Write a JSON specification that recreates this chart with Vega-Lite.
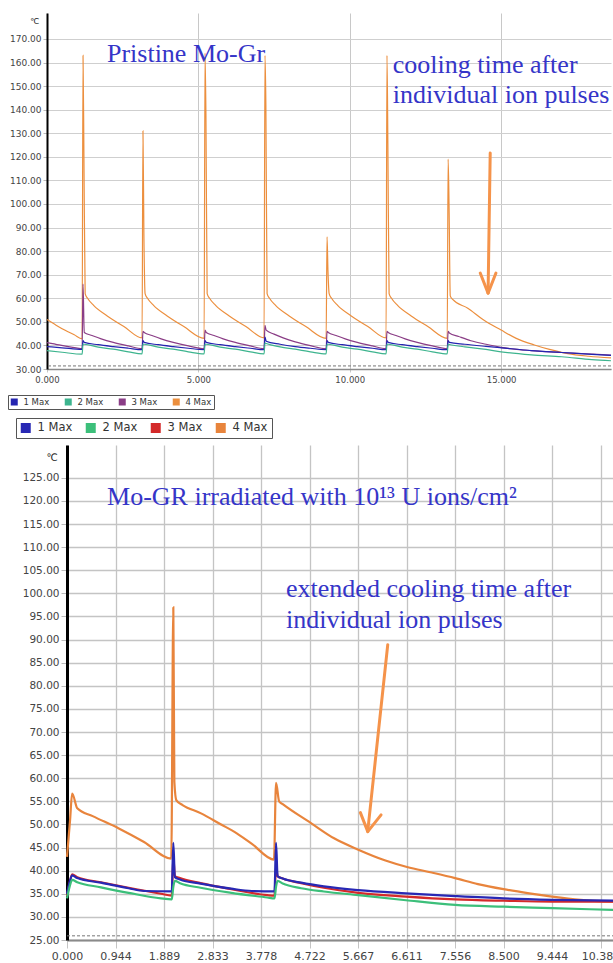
{
"$schema": "https://vega.github.io/schema/vega-lite/v6.json",
"background": "white",
"padding": {"left": 7, "top": 13, "right": 0, "bottom": 0},
"spacing": 76,
"bounds": "flush",
"config": {"view": {"stroke": null}, "font": "DejaVu Sans"},
"resolve": {"scale": {"color": "independent"}},
"datasets": {
"top": [
{"t":0,"v":51.0,"s":"4 Max"},{"t":0.3,"v":48.6,"s":"4 Max"},{"t":0.6,"v":46.4,"s":"4 Max"},{"t":0.9,"v":44.5,"s":"4 Max"},{"t":1.16,"v":42.8,"s":"4 Max"},
{"t":1.19,"v":163,"s":"4 Max"},{"t":1.22,"v":120,"s":"4 Max"},{"t":1.26,"v":62,"s":"4 Max"},{"t":1.34,"v":60,"s":"4 Max"},{"t":1.54,"v":57,"s":"4 Max"},{"t":1.99,"v":52.5,"s":"4 Max"},{"t":2.54,"v":48,"s":"4 Max"},{"t":3.14,"v":43.2,"s":"4 Max"},
{"t":3.17,"v":131,"s":"4 Max"},{"t":3.2,"v":88,"s":"4 Max"},{"t":3.24,"v":62,"s":"4 Max"},{"t":3.32,"v":60,"s":"4 Max"},{"t":3.52,"v":57,"s":"4 Max"},{"t":3.97,"v":52.5,"s":"4 Max"},{"t":4.52,"v":48,"s":"4 Max"},{"t":5.19,"v":43,"s":"4 Max"},
{"t":5.22,"v":164,"s":"4 Max"},{"t":5.25,"v":138,"s":"4 Max"},{"t":5.29,"v":62,"s":"4 Max"},{"t":5.37,"v":60,"s":"4 Max"},{"t":5.57,"v":57,"s":"4 Max"},{"t":6.02,"v":52.5,"s":"4 Max"},{"t":6.57,"v":48,"s":"4 Max"},{"t":7.17,"v":43.2,"s":"4 Max"},
{"t":7.2,"v":163,"s":"4 Max"},{"t":7.23,"v":142,"s":"4 Max"},{"t":7.27,"v":62,"s":"4 Max"},{"t":7.35,"v":60,"s":"4 Max"},{"t":7.55,"v":57,"s":"4 Max"},{"t":8.0,"v":52.5,"s":"4 Max"},{"t":8.55,"v":48,"s":"4 Max"},{"t":9.22,"v":43,"s":"4 Max"},
{"t":9.25,"v":86,"s":"4 Max"},{"t":9.28,"v":72,"s":"4 Max"},{"t":9.32,"v":62,"s":"4 Max"},{"t":9.4,"v":60,"s":"4 Max"},{"t":9.6,"v":57,"s":"4 Max"},{"t":10.05,"v":52.5,"s":"4 Max"},{"t":10.6,"v":48,"s":"4 Max"},{"t":11.2,"v":43.2,"s":"4 Max"},
{"t":11.23,"v":163,"s":"4 Max"},{"t":11.26,"v":125,"s":"4 Max"},{"t":11.3,"v":62,"s":"4 Max"},{"t":11.38,"v":60,"s":"4 Max"},{"t":11.58,"v":57,"s":"4 Max"},{"t":12.03,"v":52.5,"s":"4 Max"},{"t":12.58,"v":48,"s":"4 Max"},{"t":13.22,"v":43,"s":"4 Max"},
{"t":13.25,"v":119,"s":"4 Max"},{"t":13.28,"v":100,"s":"4 Max"},{"t":13.32,"v":61,"s":"4 Max"},{"t":13.4,"v":59.5,"s":"4 Max"},{"t":13.9,"v":55.8,"s":"4 Max"},{"t":14.4,"v":51,"s":"4 Max"},{"t":15.0,"v":46.5,"s":"4 Max"},{"t":15.5,"v":43,"s":"4 Max"},{"t":16.1,"v":40.2,"s":"4 Max"},{"t":16.6,"v":38.3,"s":"4 Max"},{"t":17.2,"v":36.5,"s":"4 Max"},{"t":17.9,"v":35.4,"s":"4 Max"},{"t":18.63,"v":34.7,"s":"4 Max"},

{"t":0,"v":41.2,"s":"3 Max"},{"t":0.4,"v":40.2,"s":"3 Max"},{"t":0.8,"v":39.3,"s":"3 Max"},{"t":1.16,"v":38.6,"s":"3 Max"},
{"t":1.19,"v":66,"s":"3 Max"},{"t":1.23,"v":45.5,"s":"3 Max"},{"t":1.49,"v":44.2,"s":"3 Max"},{"t":1.79,"v":42.8,"s":"3 Max"},{"t":2.19,"v":41.3,"s":"3 Max"},{"t":2.69,"v":39.8,"s":"3 Max"},{"t":3.14,"v":38.6,"s":"3 Max"},
{"t":3.17,"v":46,"s":"3 Max"},{"t":3.21,"v":45.5,"s":"3 Max"},{"t":3.47,"v":44.2,"s":"3 Max"},{"t":3.77,"v":42.8,"s":"3 Max"},{"t":4.17,"v":41.3,"s":"3 Max"},{"t":4.67,"v":39.8,"s":"3 Max"},{"t":5.19,"v":38.6,"s":"3 Max"},
{"t":5.22,"v":46.5,"s":"3 Max"},{"t":5.26,"v":45.5,"s":"3 Max"},{"t":5.52,"v":44.2,"s":"3 Max"},{"t":5.82,"v":42.8,"s":"3 Max"},{"t":6.22,"v":41.3,"s":"3 Max"},{"t":6.72,"v":39.8,"s":"3 Max"},{"t":7.17,"v":38.6,"s":"3 Max"},
{"t":7.2,"v":48.5,"s":"3 Max"},{"t":7.24,"v":46.5,"s":"3 Max"},{"t":7.5,"v":44.8,"s":"3 Max"},{"t":7.8,"v":43.2,"s":"3 Max"},{"t":8.2,"v":41.5,"s":"3 Max"},{"t":8.7,"v":39.9,"s":"3 Max"},{"t":9.22,"v":38.6,"s":"3 Max"},
{"t":9.25,"v":46,"s":"3 Max"},{"t":9.29,"v":45.5,"s":"3 Max"},{"t":9.55,"v":44.2,"s":"3 Max"},{"t":9.85,"v":42.8,"s":"3 Max"},{"t":10.25,"v":41.3,"s":"3 Max"},{"t":10.75,"v":39.8,"s":"3 Max"},{"t":11.2,"v":38.6,"s":"3 Max"},
{"t":11.23,"v":46,"s":"3 Max"},{"t":11.27,"v":45.5,"s":"3 Max"},{"t":11.53,"v":44.2,"s":"3 Max"},{"t":11.83,"v":42.8,"s":"3 Max"},{"t":12.23,"v":41.3,"s":"3 Max"},{"t":12.73,"v":39.8,"s":"3 Max"},{"t":13.22,"v":38.6,"s":"3 Max"},
{"t":13.25,"v":46,"s":"3 Max"},{"t":13.29,"v":45.3,"s":"3 Max"},{"t":13.6,"v":43.8,"s":"3 Max"},{"t":14.0,"v":42,"s":"3 Max"},{"t":14.5,"v":40.5,"s":"3 Max"},{"t":15.0,"v":39.2,"s":"3 Max"},{"t":16.0,"v":37.8,"s":"3 Max"},{"t":17.0,"v":37,"s":"3 Max"},{"t":18.0,"v":36.3,"s":"3 Max"},{"t":18.63,"v":35.9,"s":"3 Max"},

{"t":0,"v":39.5,"s":"1 Max"},{"t":0.5,"v":39,"s":"1 Max"},{"t":1.16,"v":38.3,"s":"1 Max"},
{"t":1.19,"v":42,"s":"1 Max"},{"t":1.23,"v":41.3,"s":"1 Max"},{"t":1.69,"v":40.3,"s":"1 Max"},{"t":2.19,"v":39.5,"s":"1 Max"},{"t":2.69,"v":38.8,"s":"1 Max"},{"t":3.14,"v":38.2,"s":"1 Max"},
{"t":3.17,"v":42,"s":"1 Max"},{"t":3.21,"v":41.3,"s":"1 Max"},{"t":3.67,"v":40.3,"s":"1 Max"},{"t":4.17,"v":39.5,"s":"1 Max"},{"t":4.67,"v":38.8,"s":"1 Max"},{"t":5.19,"v":38.2,"s":"1 Max"},
{"t":5.22,"v":42,"s":"1 Max"},{"t":5.26,"v":41.3,"s":"1 Max"},{"t":5.72,"v":40.3,"s":"1 Max"},{"t":6.22,"v":39.5,"s":"1 Max"},{"t":6.72,"v":38.8,"s":"1 Max"},{"t":7.17,"v":38.2,"s":"1 Max"},
{"t":7.2,"v":43.5,"s":"1 Max"},{"t":7.24,"v":41.8,"s":"1 Max"},{"t":7.7,"v":40.5,"s":"1 Max"},{"t":8.2,"v":39.5,"s":"1 Max"},{"t":8.7,"v":38.8,"s":"1 Max"},{"t":9.22,"v":38.2,"s":"1 Max"},
{"t":9.25,"v":42,"s":"1 Max"},{"t":9.29,"v":41.3,"s":"1 Max"},{"t":9.75,"v":40.3,"s":"1 Max"},{"t":10.25,"v":39.5,"s":"1 Max"},{"t":10.75,"v":38.8,"s":"1 Max"},{"t":11.2,"v":38.2,"s":"1 Max"},
{"t":11.23,"v":42,"s":"1 Max"},{"t":11.27,"v":41.3,"s":"1 Max"},{"t":11.73,"v":40.3,"s":"1 Max"},{"t":12.23,"v":39.5,"s":"1 Max"},{"t":12.73,"v":38.8,"s":"1 Max"},{"t":13.22,"v":38.2,"s":"1 Max"},
{"t":13.25,"v":42,"s":"1 Max"},{"t":13.29,"v":41.3,"s":"1 Max"},{"t":13.8,"v":40.5,"s":"1 Max"},{"t":14.5,"v":39.6,"s":"1 Max"},{"t":15.0,"v":39,"s":"1 Max"},{"t":16.0,"v":37.8,"s":"1 Max"},{"t":17.0,"v":37,"s":"1 Max"},{"t":18.0,"v":36.2,"s":"1 Max"},{"t":18.63,"v":35.8,"s":"1 Max"},

{"t":0,"v":37.8,"s":"2 Max"},{"t":0.5,"v":37.1,"s":"2 Max"},{"t":1.16,"v":36.3,"s":"2 Max"},
{"t":1.19,"v":40.5,"s":"2 Max"},{"t":1.23,"v":40.5,"s":"2 Max"},{"t":1.69,"v":39.3,"s":"2 Max"},{"t":2.19,"v":38.4,"s":"2 Max"},{"t":2.69,"v":37.3,"s":"2 Max"},{"t":3.14,"v":36.4,"s":"2 Max"},
{"t":3.17,"v":40.5,"s":"2 Max"},{"t":3.21,"v":40.5,"s":"2 Max"},{"t":3.67,"v":39.3,"s":"2 Max"},{"t":4.17,"v":38.4,"s":"2 Max"},{"t":4.67,"v":37.3,"s":"2 Max"},{"t":5.19,"v":36.4,"s":"2 Max"},
{"t":5.22,"v":40.5,"s":"2 Max"},{"t":5.26,"v":40.5,"s":"2 Max"},{"t":5.72,"v":39.3,"s":"2 Max"},{"t":6.22,"v":38.4,"s":"2 Max"},{"t":6.72,"v":37.3,"s":"2 Max"},{"t":7.17,"v":36.4,"s":"2 Max"},
{"t":7.2,"v":41,"s":"2 Max"},{"t":7.24,"v":40.8,"s":"2 Max"},{"t":7.7,"v":39.4,"s":"2 Max"},{"t":8.2,"v":38.4,"s":"2 Max"},{"t":8.7,"v":37.3,"s":"2 Max"},{"t":9.22,"v":36.4,"s":"2 Max"},
{"t":9.25,"v":40.5,"s":"2 Max"},{"t":9.29,"v":40.5,"s":"2 Max"},{"t":9.75,"v":39.3,"s":"2 Max"},{"t":10.25,"v":38.4,"s":"2 Max"},{"t":10.75,"v":37.3,"s":"2 Max"},{"t":11.2,"v":36.4,"s":"2 Max"},
{"t":11.23,"v":40.5,"s":"2 Max"},{"t":11.27,"v":40.5,"s":"2 Max"},{"t":11.73,"v":39.3,"s":"2 Max"},{"t":12.23,"v":38.4,"s":"2 Max"},{"t":12.73,"v":37.3,"s":"2 Max"},{"t":13.22,"v":36.4,"s":"2 Max"},
{"t":13.25,"v":40.5,"s":"2 Max"},{"t":13.29,"v":40.4,"s":"2 Max"},{"t":13.8,"v":39.4,"s":"2 Max"},{"t":14.5,"v":38.3,"s":"2 Max"},{"t":15.0,"v":37.3,"s":"2 Max"},{"t":16.0,"v":36,"s":"2 Max"},{"t":17.0,"v":35.2,"s":"2 Max"},{"t":18.0,"v":34,"s":"2 Max"},{"t":18.63,"v":33.5,"s":"2 Max"}
],
"bottom": [
{"t":0,"v":43,"s":"4 Max"},{"t":0.03,"v":47,"s":"4 Max"},{"t":0.06,"v":51,"s":"4 Max"},{"t":0.1,"v":56.7,"s":"4 Max"},{"t":0.2,"v":53.5,"s":"4 Max"},{"t":0.5,"v":51.8,"s":"4 Max"},{"t":1.0,"v":49.2,"s":"4 Max"},{"t":1.5,"v":46.2,"s":"4 Max"},{"t":2.03,"v":42.6,"s":"4 Max"},
{"t":2.07,"v":97,"s":"4 Max"},{"t":2.09,"v":59.3,"s":"4 Max"},{"t":2.13,"v":55.2,"s":"4 Max"},{"t":2.25,"v":54.2,"s":"4 Max"},{"t":2.61,"v":52.4,"s":"4 Max"},{"t":3.0,"v":50,"s":"4 Max"},{"t":3.26,"v":48.4,"s":"4 Max"},{"t":3.6,"v":45.8,"s":"4 Max"},{"t":4.03,"v":42.4,"s":"4 Max"},
{"t":4.07,"v":59,"s":"4 Max"},{"t":4.13,"v":55,"s":"4 Max"},{"t":4.2,"v":54.4,"s":"4 Max"},{"t":4.75,"v":50.3,"s":"4 Max"},{"t":5.2,"v":47,"s":"4 Max"},{"t":5.66,"v":44.6,"s":"4 Max"},{"t":6.2,"v":42.2,"s":"4 Max"},{"t":6.62,"v":40.8,"s":"4 Max"},{"t":7.1,"v":39.6,"s":"4 Max"},{"t":7.556,"v":38.4,"s":"4 Max"},{"t":8.0,"v":37.1,"s":"4 Max"},{"t":8.5,"v":36.0,"s":"4 Max"},{"t":9.0,"v":35.1,"s":"4 Max"},{"t":9.444,"v":34.4,"s":"4 Max"},{"t":10.0,"v":33.7,"s":"4 Max"},{"t":10.65,"v":33.3,"s":"4 Max"},

{"t":0,"v":34.5,"s":"3 Max"},{"t":0.05,"v":37.2,"s":"3 Max"},{"t":0.1,"v":39.2,"s":"3 Max"},{"t":0.2,"v":38.6,"s":"3 Max"},{"t":0.66,"v":37.5,"s":"3 Max"},{"t":1.2,"v":36.3,"s":"3 Max"},{"t":1.83,"v":35.0,"s":"3 Max"},{"t":2.04,"v":34.6,"s":"3 Max"},
{"t":2.07,"v":43,"s":"3 Max"},{"t":2.1,"v":38.8,"s":"3 Max"},{"t":2.2,"v":38.4,"s":"3 Max"},{"t":2.6,"v":37.3,"s":"3 Max"},{"t":3.2,"v":36,"s":"3 Max"},{"t":3.9,"v":34.7,"s":"3 Max"},{"t":4.04,"v":34.6,"s":"3 Max"},
{"t":4.07,"v":41,"s":"3 Max"},{"t":4.1,"v":38.8,"s":"3 Max"},{"t":4.2,"v":38.3,"s":"3 Max"},{"t":4.56,"v":37.3,"s":"3 Max"},{"t":5.0,"v":36.3,"s":"3 Max"},{"t":5.67,"v":35.2,"s":"3 Max"},{"t":6.6,"v":34.4,"s":"3 Max"},{"t":7.556,"v":33.8,"s":"3 Max"},{"t":8.5,"v":33.5,"s":"3 Max"},{"t":9.444,"v":33.3,"s":"3 Max"},{"t":10.65,"v":33.3,"s":"3 Max"},

{"t":0,"v":35,"s":"1 Max"},{"t":0.05,"v":37.5,"s":"1 Max"},{"t":0.1,"v":39,"s":"1 Max"},{"t":0.2,"v":38.4,"s":"1 Max"},{"t":0.66,"v":37.4,"s":"1 Max"},{"t":1.2,"v":36.2,"s":"1 Max"},{"t":1.5,"v":35.6,"s":"1 Max"},{"t":2.04,"v":35.5,"s":"1 Max"},
{"t":2.07,"v":46,"s":"1 Max"},{"t":2.1,"v":38.6,"s":"1 Max"},{"t":2.2,"v":38.1,"s":"1 Max"},{"t":2.6,"v":37.2,"s":"1 Max"},{"t":3.2,"v":36.1,"s":"1 Max"},{"t":3.6,"v":35.6,"s":"1 Max"},{"t":4.04,"v":35.5,"s":"1 Max"},
{"t":4.07,"v":46,"s":"1 Max"},{"t":4.1,"v":38.8,"s":"1 Max"},{"t":4.2,"v":38.3,"s":"1 Max"},{"t":4.56,"v":37.4,"s":"1 Max"},{"t":5.0,"v":36.6,"s":"1 Max"},{"t":5.67,"v":35.8,"s":"1 Max"},{"t":6.6,"v":35.1,"s":"1 Max"},{"t":7.556,"v":34.5,"s":"1 Max"},{"t":8.5,"v":34.0,"s":"1 Max"},{"t":9.444,"v":33.7,"s":"1 Max"},{"t":10.65,"v":33.5,"s":"1 Max"},

{"t":0,"v":34,"s":"2 Max"},{"t":0.05,"v":36.5,"s":"2 Max"},{"t":0.1,"v":38,"s":"2 Max"},{"t":0.2,"v":37.5,"s":"2 Max"},{"t":0.66,"v":36.4,"s":"2 Max"},{"t":1.2,"v":35.2,"s":"2 Max"},{"t":1.83,"v":34,"s":"2 Max"},{"t":2.04,"v":33.8,"s":"2 Max"},
{"t":2.07,"v":36.5,"s":"2 Max"},{"t":2.1,"v":37.8,"s":"2 Max"},{"t":2.2,"v":37.3,"s":"2 Max"},{"t":2.6,"v":36.3,"s":"2 Max"},{"t":3.2,"v":35.2,"s":"2 Max"},{"t":3.9,"v":34.2,"s":"2 Max"},{"t":4.04,"v":34,"s":"2 Max"},
{"t":4.07,"v":36.5,"s":"2 Max"},{"t":4.1,"v":37.8,"s":"2 Max"},{"t":4.2,"v":37.2,"s":"2 Max"},{"t":4.56,"v":36.2,"s":"2 Max"},{"t":5.0,"v":35.5,"s":"2 Max"},{"t":5.67,"v":34.7,"s":"2 Max"},{"t":6.6,"v":33.6,"s":"2 Max"},{"t":7.556,"v":32.6,"s":"2 Max"},{"t":8.5,"v":32.2,"s":"2 Max"},{"t":9.444,"v":31.9,"s":"2 Max"},{"t":10.65,"v":31.5,"s":"2 Max"}
]
},
"vconcat": [
{
"width": 564, "height": 356,
"layer": [
{"data": {"name": "top"},
 "mark": {"type": "line", "strokeWidth": 1.2, "interpolate": "monotone"},
 "encoding": {
  "x": {"field": "t", "type": "quantitative", "scale": {"domain": [0, 18.63], "nice": false, "zero": false},
        "axis": {"values": [0, 5, 10, 15], "tickCount": 30, "format": ".3f", "title": null, "grid": true, "gridColor": "#c8c8c8", "gridWidth": 1, "domainColor": "#8a8a8a", "domainWidth": 1.5, "ticks": true, "tickSize": 3, "tickColor": "#c8c8c8", "labelPadding": 3, "labelFontSize": 8.5, "labelColor": "#444", "labelFont": "DejaVu Sans", "labelFlush": false, "labelOverlap": false}},
  "y": {"field": "v", "type": "quantitative", "scale": {"domain": [30, 181], "nice": false, "zero": false},
        "axis": {"values": [30, 40, 50, 60, 70, 80, 90, 100, 110, 120, 130, 140, 150, 160, 170], "tickCount": 40, "format": ".2f", "title": "℃", "titleAngle": 0, "titleX": -13, "titleY": 8.5, "titleAlign": "center", "titleBaseline": "middle", "titleFontSize": 8, "titleFontWeight": "normal", "titleFont": "DejaVu Sans", "titleColor": "#222", "grid": true, "gridColor": "#cfcfcf", "domainColor": "#000", "domainWidth": 2, "tickSize": 4, "tickColor": "#bbb", "labelPadding": 2, "labelFontSize": 9, "labelColor": "#444", "labelFont": "DejaVu Sans", "labelOverlap": false}},
  "color": {"field": "s", "type": "nominal",
        "scale": {"domain": ["1 Max", "2 Max", "3 Max", "4 Max"], "range": ["#2424b0", "#3db48e", "#8a3d86", "#ec8f3e"]},
        "legend": {"title": null, "orient": "none", "legendX": -39, "legendY": 382, "direction": "horizontal", "symbolType": "square", "symbolSize": 1, "symbolStrokeWidth": 6, "clipHeight": 10, "labelFontSize": 8.5, "labelFont": "DejaVu Sans", "labelColor": "#333", "columnPadding": 14, "labelOffset": 5, "strokeColor": "#555", "padding": 2, "fillColor": "white"}}
 }},
{"data": {"values": [{}]},
 "mark": {"type": "rule", "strokeDash": [3, 2], "color": "#777", "strokeWidth": 1},
 "encoding": {"y": {"datum": 31.3, "type": "quantitative"}}},
{"data": {"values": [
  {"t": 1.98, "v": 160.2, "label": "Pristine Mo-Gr"},
  {"t": 11.42, "v": 155.7, "label": "cooling time after"},
  {"t": 11.42, "v": 142.7, "label": "individual ion pulses"}]},
 "mark": {"type": "text", "font": "Liberation Serif", "fontSize": 26, "color": "#3535c8", "align": "left", "baseline": "alphabetic"},
 "encoding": {"x": {"field": "t", "type": "quantitative"}, "y": {"field": "v", "type": "quantitative"}, "text": {"field": "label"}}},
{"data": {"values": [
  {"t": 14.64, "v": 121.6, "t2": 14.57, "v2": 62.5},
  {"t": 14.57, "v": 62.2, "t2": 14.31, "v2": 70.7},
  {"t": 14.57, "v": 62.2, "t2": 14.83, "v2": 70.7}]},
 "mark": {"type": "rule", "color": "#f5934a", "strokeWidth": 3, "strokeCap": "round"},
 "encoding": {"x": {"field": "t", "type": "quantitative"}, "y": {"field": "v", "type": "quantitative"}, "x2": {"field": "t2"}, "y2": {"field": "v2"}}}
]
},
{
"width": 567, "height": 495,
"layer": [
{"data": {"name": "bottom"},
 "mark": {"type": "line", "strokeWidth": 2.2, "interpolate": "monotone"},
 "encoding": {
  "x": {"field": "t", "type": "quantitative", "scale": {"domain": [0, 10.65], "range": [20, 567], "nice": false, "zero": false},
        "axis": {"values": [0, 0.94444, 1.88889, 2.83333, 3.77778, 4.72222, 5.66667, 6.61111, 7.55556, 8.5, 9.44444, 10.38889], "tickCount": 40, "format": ".3f", "title": null, "grid": true, "gridColor": "#c4c4c4", "gridWidth": 1.3, "domainColor": "#8a8a8a", "domainWidth": 2, "tickSize": 8, "tickColor": "#c4c4c4", "labelPadding": 2, "labelFontSize": 11, "labelColor": "#444", "labelFont": "DejaVu Sans", "labelFlush": false, "labelOverlap": false}},
  "y": {"field": "v", "type": "quantitative", "scale": {"domain": [25, 132.1], "nice": false, "zero": false},
        "axis": {"values": [25, 30, 35, 40, 45, 50, 55, 60, 65, 70, 75, 80, 85, 90, 95, 100, 105, 110, 115, 120, 125], "tickCount": 50, "format": ".2f", "offset": -20, "title": "℃", "titleAngle": 0, "titleX": -15.5, "titleY": 12, "titleAlign": "center", "titleBaseline": "middle", "titleFontSize": 10, "titleFontWeight": "normal", "titleFont": "DejaVu Sans", "titleColor": "#222", "grid": true, "gridColor": "#c4c4c4", "gridWidth": 1.3, "domainColor": "#000", "domainWidth": 3, "tickSize": 6, "tickColor": "#bbb", "labelPadding": 2, "labelFontSize": 10.5, "labelColor": "#444", "labelFont": "DejaVu Sans", "labelOverlap": false}},
  "color": {"field": "s", "type": "nominal",
        "scale": {"domain": ["1 Max", "2 Max", "3 Max", "4 Max"], "range": ["#2828b4", "#3cbf7a", "#d42a2a", "#e8843c"]},
        "legend": {"title": null, "orient": "none", "legendX": -31, "legendY": -27, "direction": "horizontal", "symbolType": "square", "symbolSize": 1, "symbolStrokeWidth": 9, "clipHeight": 12, "labelFontSize": 11.5, "labelFont": "DejaVu Sans", "labelColor": "#333", "columnPadding": 12, "labelOffset": 6, "strokeColor": "#555", "padding": 4, "fillColor": "white"}}
 }},
{"data": {"values": [{}]},
 "mark": {"type": "rule", "strokeDash": [3, 2], "color": "#777", "strokeWidth": 1},
 "encoding": {"y": {"datum": 25.9, "type": "quantitative"}, "x": {"datum": 0, "type": "quantitative"}, "x2": {"datum": 10.65}}},
{"data": {"values": [
  {"t": 0.78, "v": 119.2, "label": "Mo-GR irradiated with 10¹³ U ions/cm²"},
  {"t": 4.265, "v": 99.3, "label": "extended cooling time after"},
  {"t": 4.265, "v": 92.5, "label": "individual ion pulses"}]},
 "mark": {"type": "text", "font": "Liberation Serif", "fontSize": 26, "color": "#3535c8", "align": "left", "baseline": "alphabetic"},
 "encoding": {"x": {"field": "t", "type": "quantitative"}, "y": {"field": "v", "type": "quantitative"}, "text": {"field": "label"}}},
{"data": {"values": [
  {"t": 6.245, "v": 88.9, "t2": 5.856, "v2": 48.6},
  {"t": 5.856, "v": 48.44, "t2": 5.712, "v2": 52.55},
  {"t": 5.856, "v": 48.44, "t2": 6.115, "v2": 52.06}]},
 "mark": {"type": "rule", "color": "#f5934a", "strokeWidth": 3, "strokeCap": "round"},
 "encoding": {"x": {"field": "t", "type": "quantitative"}, "y": {"field": "v", "type": "quantitative"}, "x2": {"field": "t2"}, "y2": {"field": "v2"}}}
]
}
]
}
